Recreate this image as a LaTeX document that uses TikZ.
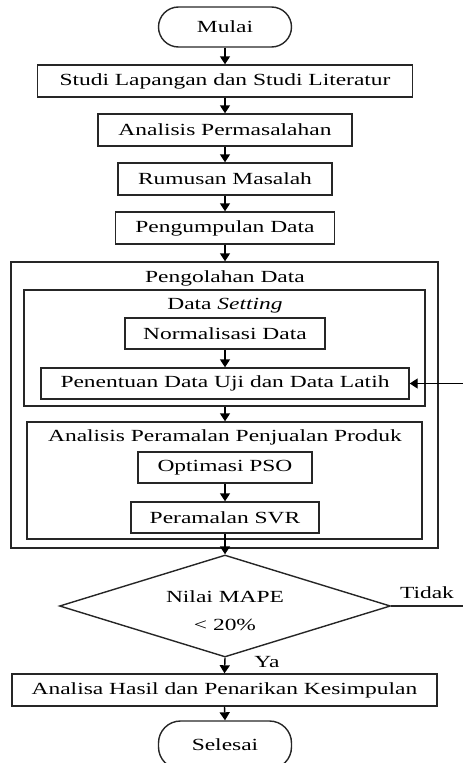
\documentclass[tikz,border=0pt]{standalone}
\usepackage{fontspec}
\setmainfont[FakeStretch=1.38]{Liberation Serif}
\usetikzlibrary{shapes.geometric,arrows.meta}
\begin{document}
\begin{tikzpicture}[x=1pt,y=-1pt,
  txt/.style={font=\fontsize{17}{20}\selectfont},
  box/.style={draw=black!85, line width=1.4pt, rectangle, inner sep=0pt, minimum height=32pt, txt},
  term/.style={box, rounded corners=20pt, minimum width=133pt, minimum height=40pt},
  frame/.style={draw=black!85, line width=1.4pt, rectangle, inner sep=0pt},
  lbl/.style={inner sep=0pt, txt},
  arr/.style={draw=black, line width=1.4pt, -{Triangle[length=8pt,width=10pt]}},
  ln/.style={draw=black!85, line width=1.4pt}]
\useasboundingbox (0,0) rectangle (463,763);
\clip (0,0) rectangle (463,763);
% main chain
\node[term] (mulai) at (225,27) {Mulai};
\node[box, minimum width=375pt] (studi) at (225,81) {Studi Lapangan dan Studi Literatur};
\node[box, minimum width=254pt] (anal) at (225,130) {Analisis Permasalahan};
\node[box, minimum width=214pt] (rumus) at (225,179) {Rumusan Masalah};
\node[box, minimum width=219pt] (kumpul) at (225,228) {Pengumpulan Data};
% outer frame
\node[frame, minimum width=427pt, minimum height=286pt] (olah) at (224.5,405) {};
\node[lbl] (olahT) at (225,278) {Pengolahan Data};
% data setting
\node[frame, minimum width=401pt, minimum height=116pt] (setting) at (224.5,348) {};
\node[lbl] (settingT) at (225,306) {Data \textit{Setting}};
\node[box, minimum width=200pt, minimum height=31pt] (norm) at (225,333.5) {Normalisasi Data};
\node[box, minimum width=368pt, minimum height=31pt] (tentu) at (225,383.5) {Penentuan Data Uji dan Data Latih};
% analisis peramalan
\node[frame, minimum width=395pt, minimum height=117pt] (ramal) at (224.5,480.5) {};
\node[lbl] (ramalT) at (225,437) {Analisis Peramalan Penjualan Produk};
\node[box, minimum width=174pt, minimum height=31pt] (pso) at (225,467.5) {Optimasi PSO};
\node[box, minimum width=188pt, minimum height=31pt] (svr) at (225,517.5) {Peramalan SVR};
% decision
\node[diamond, ln, minimum width=331pt, minimum height=102pt, inner sep=0pt] (dec) at (225,606) {};
\node[lbl, align=center] (decT) at (225,611) {Nilai MAPE\\[8pt]< 20\%};
\node[lbl] (tidak) at (427,593) {Tidak};
\node[lbl] (ya) at (267,662) {Ya};
\node[box, minimum width=425pt] (hasil) at (224.5,690) {Analisa Hasil dan Penarikan Kesimpulan};
\node[term, rounded corners=22pt, minimum height=48pt] (selesai) at (225,745) {Selesai};
% connectors
\draw[arr] (mulai) -- (studi);
\draw[arr] (studi) -- (anal);
\draw[arr] (anal) -- (rumus);
\draw[arr] (rumus) -- (kumpul);
\draw[arr] (kumpul.south) -- (olah.north -| kumpul.south);
\draw[arr] (norm) -- (tentu);
\draw[arr] (setting.south -| tentu.south) -- (ramal.north -| tentu.south);
\draw[arr] (pso) -- (svr);
\draw[arr] (svr.south) -- (dec.north);
\draw[arr] (dec.south) -- (hasil.north);
\draw[arr] (hasil.south) -- (selesai.north);
\coordinate (tr) at (463,606);
\draw[ln] (dec.east) -- (tr);
\coordinate (fb) at (463,383.5);
\draw[arr] (fb) -- (tentu.east);
\end{tikzpicture}
\end{document}
